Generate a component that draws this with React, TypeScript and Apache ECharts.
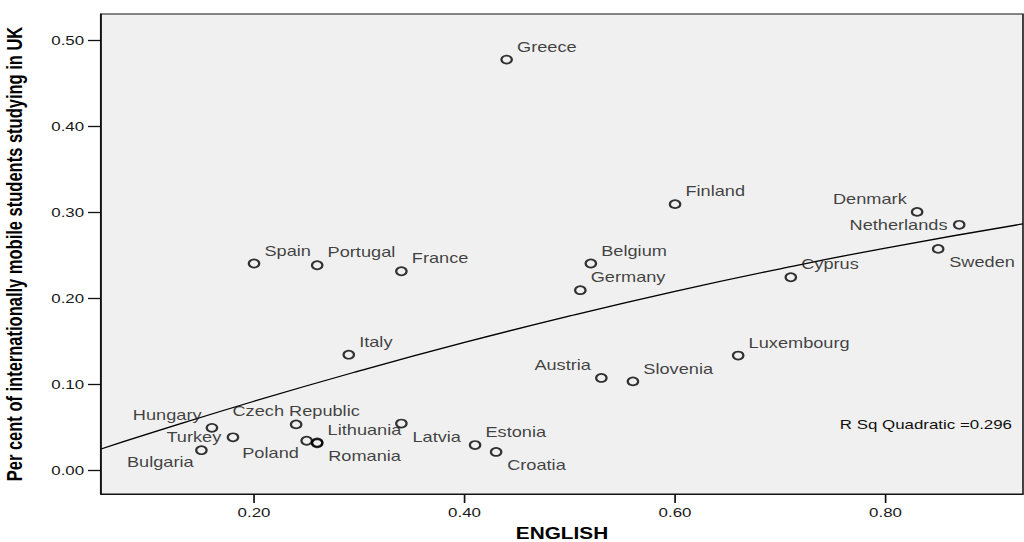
import React, { useEffect, useRef } from "react";
import * as echarts from "echarts";

// Countries and their values
const countries = [
  "Greece", "Finland", "Denmark", "Netherlands", "Sweden", "Cyprus",
  "Spain", "Portugal", "France", "Belgium", "Germany", "Italy",
  "Luxembourg", "Austria", "Slovenia", "Hungary", "Turkey", "Bulgaria",
  "Czech Republic", "Poland", "Lithuania", "Romania", "Latvia", "Estonia", "Croatia",
];
const english = [
  0.44, 0.6, 0.83, 0.87, 0.85, 0.71,
  0.2, 0.26, 0.34, 0.52, 0.51, 0.29,
  0.66, 0.53, 0.56, 0.16, 0.18, 0.15,
  0.24, 0.25, 0.26, 0.26, 0.34, 0.41, 0.43,
];
const ukShare = [
  0.477, 0.309, 0.3, 0.285, 0.257, 0.224,
  0.24, 0.238, 0.231, 0.24, 0.209, 0.134,
  0.133, 0.107, 0.103, 0.049, 0.038, 0.023,
  0.053, 0.034, 0.032, 0.031, 0.054, 0.029, 0.021,
];

// Quadratic fit line, sampled along the English axis
const fitEnglish = [0.0546, 0.1, 0.2, 0.3, 0.4, 0.5, 0.6, 0.7, 0.8, 0.9306];
const fitShare = [0.0244, 0.0422, 0.0799, 0.1152, 0.1483, 0.1791, 0.2077, 0.2339, 0.258, 0.286];
const rSquaredText = "R Sq Quadratic =0.296";

const xTicks = [0.2, 0.4, 0.6, 0.8];
const yTicks = [0, 0.1, 0.2, 0.3, 0.4, 0.5];
const xTitle = "ENGLISH";
const yTitle = "Per cent of internationally mobile students studying in UK";

// Which side of its marker each country's name sits on
const labelSide: Record<string, string> = {
  Greece: "ur", Finland: "ur", Denmark: "ul", Netherlands: "l", Sweden: "lr",
  Cyprus: "ur", Spain: "ur", Portugal: "ur", France: "ur", Belgium: "ur",
  Germany: "ur", Italy: "ur", Luxembourg: "ur", Austria: "ul", Slovenia: "ur",
  Hungary: "ul", Turkey: "l", Bulgaria: "ll", "Czech Republic": "t",
  Poland: "ll", Lithuania: "ur", Romania: "lr", Latvia: "lr", Estonia: "ur",
  Croatia: "lr",
};

const sideStyle: Record<string, { offset: number[]; align: string }> = {
  ur: { offset: [8, -13], align: "left" },
  ul: { offset: [-8, -13], align: "right" },
  l: { offset: [-9, 0], align: "right" },
  lr: { offset: [8.5, 13], align: "left" },
  ll: { offset: [-6, 12], align: "right" },
  t: { offset: [0, -13.5], align: "center" },
};

// The chart is laid out narrower and widened horizontally
const PAGE_W = 1024;
const PAGE_H = 542;
const INNER_W = 788;
const STRETCH = PAGE_W / INNER_W;
const FONT = "'Liberation Sans', Arial, sans-serif";

export default function App() {
  const ref = useRef<HTMLDivElement>(null);

  useEffect(() => {
    if (!ref.current) return;
    const chart = echarts.init(ref.current, null, { renderer: "svg" });

    const points = countries.map((name, i) => {
      const side = sideStyle[labelSide[name] || "ur"];
      return {
        name,
        value: [english[i], ukShare[i]],
        label: {
          position: "inside",
          offset: side.offset,
          align: side.align,
          verticalAlign: "middle",
        },
      };
    });

    chart.setOption({
      animation: false,
      backgroundColor: "#ffffff",
      grid: {
        left: 101 / STRETCH,
        right: INNER_W - 1023 / STRETCH,
        top: 14,
        bottom: PAGE_H - 494,
        outerBoundsMode: "none",
        containLabel: false,
        show: true,
        backgroundColor: "#f0f0f0",
        borderColor: "#111",
        borderWidth: 1.2,
      },
      xAxis: {
        type: "value",
        min: 0.0546,
        max: 0.9306,
        name: xTitle,
        nameLocation: "middle",
        nameGap: 31,
        nameTextStyle: {
          fontFamily: FONT,
          fontSize: 16,
          lineHeight: 16,
          fontWeight: "bold",
          color: "#000",
        },
        axisLine: { show: true, onZero: false, lineStyle: { color: "#111", width: 1.2 } },
        axisTick: { show: true, length: 9, customValues: xTicks, lineStyle: { color: "#111", width: 1.3 } },
        axisLabel: {
          customValues: xTicks,
          margin: 12,
          fontFamily: FONT,
          fontSize: 13,
          color: "#1a1a1a",
          formatter: (v: number) => v.toFixed(2),
        },
        splitLine: { show: false },
      },
      yAxis: {
        type: "value",
        min: -0.0279,
        max: 0.53,
        name: yTitle,
        nameLocation: "middle",
        nameRotate: 90,
        nameGap: 58,
        nameTextStyle: { fontFamily: FONT, fontSize: 16.5, fontWeight: "bold", color: "#000" },
        axisLine: { show: true, onZero: false, lineStyle: { color: "#111", width: 1.2 } },
        axisTick: { show: true, length: 10, customValues: yTicks, lineStyle: { color: "#111", width: 1.3 } },
        axisLabel: {
          customValues: yTicks,
          margin: 13,
          fontFamily: FONT,
          fontSize: 13,
          color: "#1a1a1a",
          formatter: (v: number) => v.toFixed(2),
        },
        splitLine: { show: false },
      },
      series: [
        {
          type: "line",
          data: fitEnglish.map((x, i) => [x, fitShare[i]]),
          smooth: true,
          showSymbol: false,
          silent: true,
          lineStyle: { color: "#000", width: 1.3 },
          z: 2,
        },
        {
          type: "scatter",
          data: points,
          symbol: "circle",
          symbolSize: 8,
          itemStyle: { color: "rgba(0,0,0,0)", borderColor: "#000", borderWidth: 1.7 },
          label: {
            show: true,
            formatter: "{b}",
            fontFamily: FONT,
            fontSize: 14,
            color: "#111",
          },
          z: 3,
        },
      ],
      graphic: [
        {
          type: "text",
          x: 1012 / STRETCH,
          y: 424,
          style: {
            text: rSquaredText,
            align: "right",
            verticalAlign: "middle",
            fontFamily: FONT,
            fontSize: 13,
            fill: "#111",
          },
        },
      ],
    });

    return () => chart.dispose();
  }, []);

  return (
    <div
      style={{
        position: "fixed",
        left: 0,
        top: 0,
        width: PAGE_W,
        height: PAGE_H,
        overflow: "hidden",
        background: "#fff",
      }}
    >
      <div
        ref={ref}
        style={{
          width: INNER_W,
          height: PAGE_H,
          transform: `scaleX(${STRETCH})`,
          transformOrigin: "0 0",
        }}
      />
    </div>
  );
}
